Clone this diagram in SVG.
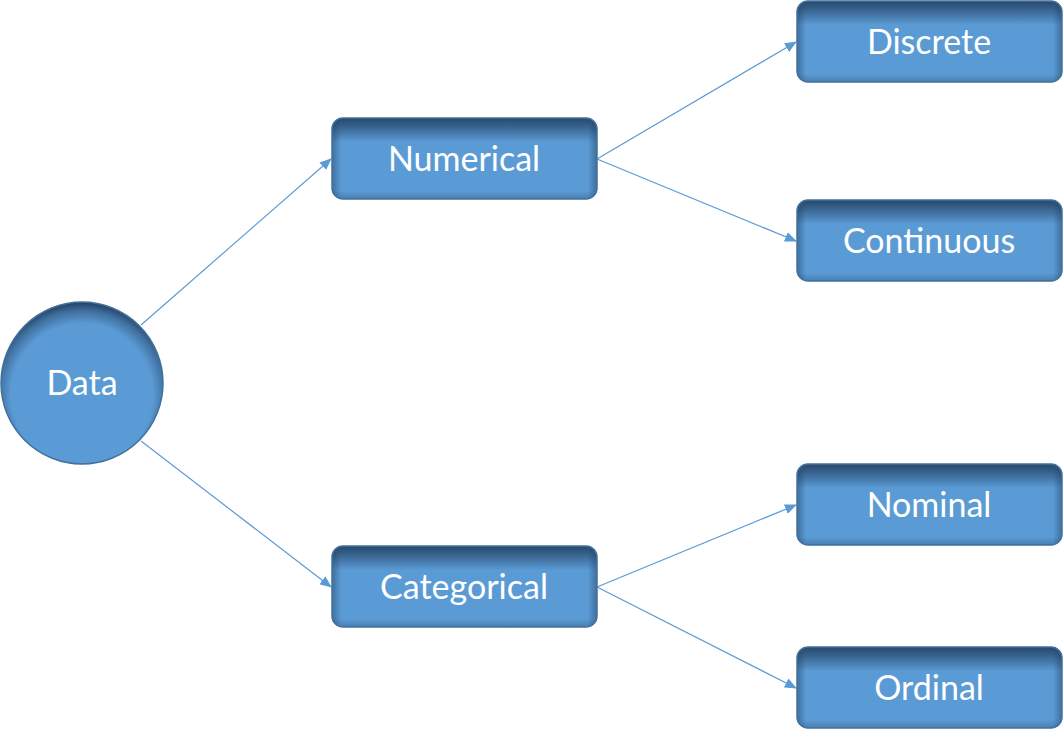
<svg xmlns="http://www.w3.org/2000/svg" width="1063" height="734" viewBox="0 0 1063 734">
<style>
.box{fill:#5b9bd5}
.vs{fill:url(#vshade)}
.hs{fill:url(#hshade)}
.bd{fill:none;stroke:#41719c;stroke-width:1.5}
.lbl{fill:#ffffff;font-family:Lato,"Open Sans",sans-serif;font-size:34px;text-anchor:middle}
.edge{stroke:#5b9bd5;stroke-width:1.2;fill:none;marker-end:url(#arr)}
</style>
<defs>
<linearGradient id="vshade" x1="0" y1="0" x2="0" y2="1">
<stop offset="0" stop-color="#1e3a5a" stop-opacity="0.85"/>
<stop offset="0.1" stop-color="#1e3a5a" stop-opacity="0.6"/>
<stop offset="0.3" stop-color="#1e3a5a" stop-opacity="0"/>
<stop offset="0.9" stop-color="#1e3a5a" stop-opacity="0"/>
<stop offset="1" stop-color="#1e3a5a" stop-opacity="0.3"/>
</linearGradient>
<linearGradient id="hshade" x1="0" y1="0" x2="1" y2="0">
<stop offset="0" stop-color="#1e3a5a" stop-opacity="0.45"/>
<stop offset="0.035" stop-color="#1e3a5a" stop-opacity="0"/>
<stop offset="0.965" stop-color="#1e3a5a" stop-opacity="0"/>
<stop offset="1" stop-color="#1e3a5a" stop-opacity="0.45"/>
</linearGradient>
<radialGradient id="cshade" cx="0.5" cy="0.57" r="0.56">
<stop offset="0.78" stop-color="#1e3a5a" stop-opacity="0"/>
<stop offset="0.92" stop-color="#1e3a5a" stop-opacity="0.45"/>
<stop offset="1" stop-color="#1e3a5a" stop-opacity="0.85"/>
</radialGradient>
<marker id="arr" markerWidth="12" markerHeight="10" refX="11" refY="5" orient="auto" markerUnits="userSpaceOnUse">
<path d="M0,0 L12,5 L0,10 z" fill="#5b9bd5"/>
</marker>
</defs>
<g id="connectors">
<line class="edge" x1="141" y1="325" x2="331" y2="159"/>
<line class="edge" x1="141" y1="441" x2="331" y2="587"/>
<line class="edge" x1="597" y1="159" x2="796" y2="42"/>
<line class="edge" x1="597" y1="159" x2="796" y2="241"/>
<line class="edge" x1="597" y1="587" x2="796" y2="505"/>
<line class="edge" x1="597" y1="587" x2="796" y2="688"/>
</g>
<g id="data"><circle class="box" cx="82" cy="383" r="81"/><circle cx="82" cy="383" r="81" fill="url(#cshade)"/><circle class="bd" cx="82" cy="383" r="81"/><text class="lbl" x="82" y="395">Data</text></g>
<g id="numerical"><rect class="box" x="332" y="118" width="265" height="81" rx="11"/><rect class="vs" x="332" y="118" width="265" height="81" rx="11"/><rect class="hs" x="332" y="118" width="265" height="81" rx="11"/><rect class="bd" x="332" y="118" width="265" height="81" rx="11"/><text class="lbl" x="464" y="171">Numerical</text></g>
<g id="categorical"><rect class="box" x="332" y="546" width="265" height="81" rx="11"/><rect class="vs" x="332" y="546" width="265" height="81" rx="11"/><rect class="hs" x="332" y="546" width="265" height="81" rx="11"/><rect class="bd" x="332" y="546" width="265" height="81" rx="11"/><text class="lbl" x="464" y="599">Categorical</text></g>
<g id="discrete"><rect class="box" x="797" y="1" width="265" height="81" rx="11"/><rect class="vs" x="797" y="1" width="265" height="81" rx="11"/><rect class="hs" x="797" y="1" width="265" height="81" rx="11"/><rect class="bd" x="797" y="1" width="265" height="81" rx="11"/><text class="lbl" x="929" y="54">Discrete</text></g>
<g id="continuous"><rect class="box" x="797" y="200" width="265" height="81" rx="11"/><rect class="vs" x="797" y="200" width="265" height="81" rx="11"/><rect class="hs" x="797" y="200" width="265" height="81" rx="11"/><rect class="bd" x="797" y="200" width="265" height="81" rx="11"/><text class="lbl" x="929" y="253">Continuous</text></g>
<g id="nominal"><rect class="box" x="797" y="464" width="265" height="81" rx="11"/><rect class="vs" x="797" y="464" width="265" height="81" rx="11"/><rect class="hs" x="797" y="464" width="265" height="81" rx="11"/><rect class="bd" x="797" y="464" width="265" height="81" rx="11"/><text class="lbl" x="929" y="517">Nominal</text></g>
<g id="ordinal"><rect class="box" x="797" y="647" width="265" height="81" rx="11"/><rect class="vs" x="797" y="647" width="265" height="81" rx="11"/><rect class="hs" x="797" y="647" width="265" height="81" rx="11"/><rect class="bd" x="797" y="647" width="265" height="81" rx="11"/><text class="lbl" x="929" y="700">Ordinal</text></g>
</svg>
